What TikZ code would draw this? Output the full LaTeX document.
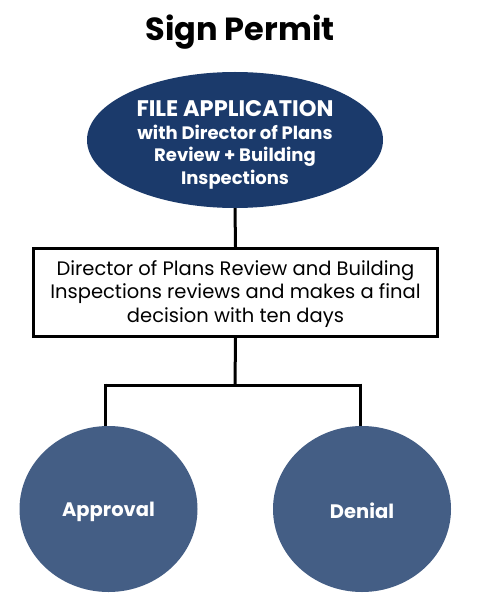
\documentclass[tikz,border=0pt]{standalone}
\usepackage{fontspec}
\setmainfont{Poppins}
\usetikzlibrary{shapes.geometric}
\definecolor{navy}{HTML}{1B3A6B}
\definecolor{slate}{HTML}{445E85}
\tikzset{
  conn/.style={line width=3pt, draw=black},
  oval/.style={ellipse, fill=navy, minimum width=296pt, minimum height=136pt, inner sep=0pt, text=white, font=\bfseries\fontsize{18}{22.5}\selectfont, align=center},
  decision/.style={ellipse, fill=slate, minimum width=178pt, minimum height=166pt, inner sep=0pt, text=white, font=\bfseries\fontsize{19.5}{22}\selectfont},
  stepbox/.style={draw=black, line width=3pt, minimum width=404pt, minimum height=88pt, inner sep=0pt, align=center, font=\fontsize{19.5}{23.5}\selectfont},
}
\begin{document}
\begin{tikzpicture}[x=1pt,y=-1pt]
\useasboundingbox (0,0) rectangle (480,604);
\node[font=\bfseries\fontsize{32}{36}\selectfont] (title) at (240,32) {Sign Permit};
\node[oval] (file) at (235,140) {};
\node[text=white, font=\bfseries\fontsize{18}{22.5}\selectfont, align=center] (filetext) at (235,145) {{\fontsize{22.5}{24}\selectfont FILE APPLICATION}\\
with Director of Plans\\
Review + Building\\
Inspections};
\node[stepbox] (review) at (235.5,292.5) {};
\node[align=center, font=\fontsize{19.5}{23.5}\selectfont] (reviewtext) at (235.5,294) {Director of Plans Review and Building\\Inspections reviews and makes a final\\decision with ten days};
\node[decision] (approval) at (108.5,509) {};
\node[decision] (denial) at (362,509) {};
\node[text=white, font=\bfseries\fontsize{19.5}{22}\selectfont] (approvaltext) at (108.5,512) {Approval};
\node[text=white, font=\bfseries\fontsize{19.5}{22}\selectfont] (denialtext) at (362,511) {Denial};
\coordinate (split) at (235,385);
\coordinate (jl) at (105,385);
\coordinate (jr) at (360,385);
\draw[conn] (file.south) -- (review.north);
\draw[conn] (review.south) -- (split);
\draw[conn] (jl) -- (jr);
\draw[conn] (jl) ++(0,-1.5) -- (jl |- approval.north);
\draw[conn] (jr) ++(0,-1.5) -- (jr |- denial.north);
\end{tikzpicture}
\end{document}
